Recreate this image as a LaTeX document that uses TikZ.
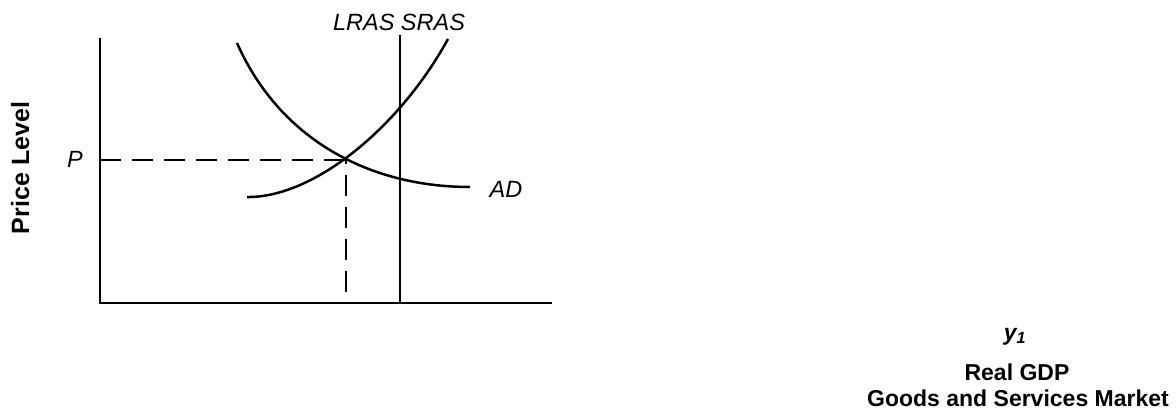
\documentclass[tikz,border=0pt]{standalone}
\usepackage{fontspec}
\setmainfont{Liberation Sans}
\begin{document}
\begin{tikzpicture}[x=1pt,y=-1pt,
  lbl/.style={font=\fontsize{23.5}{26}\selectfont\itshape, inner sep=0pt, anchor=base},
  blbl/.style={font=\fontsize{23}{26}\selectfont\bfseries, inner sep=0pt, anchor=base},
  bilbl/.style={font=\fontsize{23}{26}\selectfont\bfseries\itshape, inner sep=0pt, anchor=base},
  axisline/.style={line width=2.5pt},
  curveline/.style={line width=2.5pt},
  guide/.style={line width=2.5pt, dash pattern=on 21pt off 11pt}]
\useasboundingbox (0,0) rectangle (1176,410);
% axes
\coordinate (ytop) at (100,38);
\coordinate (O) at (100,303);
\coordinate (xend) at (552,303);
\draw[axisline] (ytop) -- (O) -- (xend);
% equilibrium guides
\coordinate (E) at (346,160);
\coordinate (Py) at (100,160);
\coordinate (Ex) at (346,303);
\draw[guide] (Py) -- (E);
\draw[guide, dash phase=21pt] (Ex) -- (E);
% LRAS
\coordinate (lrastop) at (400,35);
\coordinate (lrasbot) at (400,303);
\draw[curveline] (lrastop) -- (lrasbot);
% AD
\coordinate (ads) at (237,43);
\coordinate (ade) at (470,187);
\draw[curveline] (ads) .. controls (280,140) and (370,187) .. (ade);
% SRAS
\coordinate (srs) at (247,197);
\coordinate (sre) at (448,39);
\draw[curveline] (srs) .. controls (312,198) and (398,130) .. (sre);
% labels
\node[lbl] (lras) at (399,30) {LRAS SRAS};
\node[lbl] (plab) at (75,167) {P};
\node[lbl] (adlab) at (506,197) {AD};
\node[blbl, font=\fontsize{25}{28}\selectfont\bfseries, rotate=90] (pricelevel) at (29,168) {Price Level};
\node[bilbl] (y1) at (1015,340) {y\textsubscript{1}};
\node[blbl] (realgdp) at (1017,380) {Real GDP};
\node[blbl] (market) at (1018,406) {Goods and Services Market};
\end{tikzpicture}
\end{document}
